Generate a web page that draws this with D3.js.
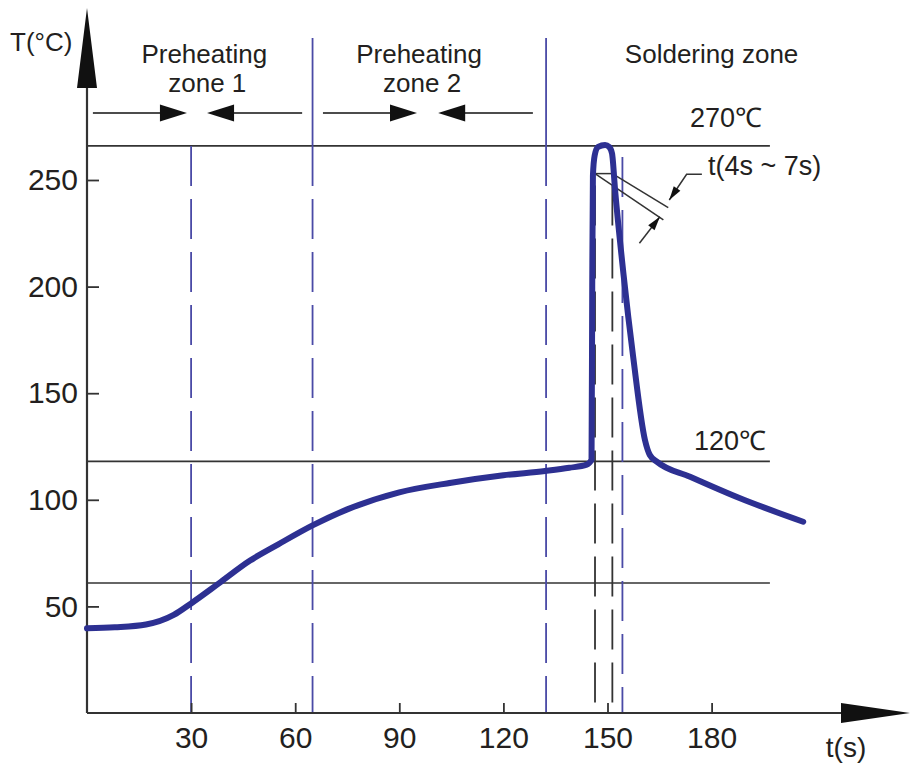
<!DOCTYPE html>
<html>
<head>
<meta charset="utf-8">
<script src="https://cdn.jsdelivr.net/npm/d3@7"></script>
<style>
body { margin: 0; background: #fff; }
svg text { font-family: "Liberation Sans", Arial, sans-serif; fill: #231f20; }
</style>
</head>
<body>
<div id="svgSpot"></div>
<script>
// reflow soldering profile, time (s) vs temperature (C)
var timeVals = [0, 8, 17, 25, 30, 38, 47, 55, 65, 75, 90, 105, 120, 132, 139, 144, 145.4, 145.6, 145.8, 146.3, 147.3, 149.3, 150.5, 151.3, 152.2, 154.6, 157.4, 160.8, 162.2, 164.3, 173.8, 188.2, 206.4];
var tempVals = [39.7, 40.2, 41.5, 46, 51.4, 60.8, 71.5, 79, 88, 95.5, 103.5, 108, 111.5, 113.5, 115, 116.5, 118.7, 200, 252, 261.5, 265.5, 266.4, 265.5, 262.5, 245, 206, 167, 128, 121, 117.8, 110.8, 100.7, 89.7];

var xTicks = [30, 60, 90, 120, 150, 180];
var yTicks = [50, 100, 150, 200, 250];

var refTemps = [266, 118, 61];
var refLabels = ["270℃", "120℃"];
var refEnd = 196.8;

var zoneEdges = [65, 132.3];
var zoneNames = [["Preheating", "zone 1"], ["Preheating", "zone 2"], ["Soldering zone"]];
var zoneCenters = [33.8, 95.7, 180]; // in seconds
var blueDashed = [30, 65, 132.3, 154.3];
var blueDashedTop = [266, 266, 266, 260.8];
var blackDashed = [146.4, 151.4];
var dwellTemp = 253;

function drawChart() {
	var svg = d3.select('#svgSpot').append('svg')
		.attr("width", 910)
		.attr("height", 763);

	var x = d3.scaleLinear().domain([0, 180]).range([87, 711.6]);
	var y = d3.scaleLinear().domain([0, 250]).range([713, 180]);
	var ink = "#333";
	var blue = "#4a4aa6";

	// horizontal reference lines
	svg.selectAll(".ref").data(refTemps).enter().append("line")
		.attr("x1", x(0)).attr("x2", x(refEnd))
		.attr("y1", function(d) { return y(d); })
		.attr("y2", function(d) { return y(d); })
		.style("stroke", ink).style("stroke-width", 1.6);

	// zone separators above the 270 line (solid)
	svg.selectAll(".zone").data(zoneEdges).enter().append("line")
		.attr("x1", function(d) { return x(d); })
		.attr("x2", function(d) { return x(d); })
		.attr("y1", 38).attr("y2", y(refTemps[0]))
		.style("stroke", blue).style("stroke-width", 1.8);

	// dashed blue verticals
	svg.selectAll(".bdash").data(blueDashed).enter().append("line")
		.attr("x1", function(d) { return x(d); })
		.attr("x2", function(d) { return x(d); })
		.attr("y1", function(d, i) { return y(blueDashedTop[i]); })
		.attr("y2", y(0))
		.style("stroke", blue).style("stroke-width", 1.8)
		.style("stroke-dasharray", "40,13");

	// dashed black verticals at the peak
	svg.selectAll(".kdash").data(blackDashed).enter().append("line")
		.attr("x1", function(d) { return x(d); })
		.attr("x2", function(d) { return x(d); })
		.attr("y1", y(dwellTemp) + 12).attr("y2", y(0))
		.style("stroke", ink).style("stroke-width", 1.8)
		.style("stroke-dasharray", "40,13");

	// axes
	var yAxis = svg.append("g").attr("transform", "translate(" + x(0) + ",0)")
		.call(d3.axisLeft(y).tickValues(yTicks).tickSize(-12).tickPadding(9));
	var xAxis = svg.append("g").attr("transform", "translate(0," + y(0) + ")")
		.call(d3.axisBottom(x).tickValues(xTicks).tickSize(-10).tickPadding(14));
	[xAxis, yAxis].forEach(function(a) {
		a.select(".domain").remove();
		a.selectAll("line").style("stroke", ink).style("stroke-width", 1.8);
		a.selectAll("text").style("font-size", "30px").style("fill", "#231f20")
			.style("font-family", "'Liberation Sans', Arial, sans-serif");
	});

	svg.append("line").attr("x1", x(0)).attr("x2", x(0)).attr("y1", 86).attr("y2", y(0))
		.style("stroke", ink).style("stroke-width", 2.2);
	svg.append("line").attr("x1", x(0)).attr("x2", 843).attr("y1", y(0)).attr("y2", y(0))
		.style("stroke", ink).style("stroke-width", 2.2);
	svg.append("path").attr("d", "M" + x(0) + ",8 L" + (x(0) + 10) + ",88 L" + (x(0) - 10) + ",88 Z")
		.style("fill", "#111");
	svg.append("path").attr("d", "M910," + y(0) + " L841," + (y(0) - 10) + " L841," + (y(0) + 10) + " Z")
		.style("fill", "#111");

	svg.append("text").attr("x", 10).attr("y", 51).style("font-size", "26px").text("T(°C)");
	svg.append("text").attr("x", 846).attr("y", 757).style("font-size", "28px")
		.attr("text-anchor", "middle").text("t(s)");

	// zone titles
	zoneNames.forEach(function(lines, i) {
		lines.forEach(function(s, j) {
			svg.append("text")
				.attr("x", x(zoneCenters[i]) + (j == 1 ? 3 : 0))
				.attr("y", 63 + j * 29)
				.attr("text-anchor", "middle")
				.style("font-size", "26px")
				.text(s);
		});
	});

	// zone arrows (pair per preheating zone)
	var arrowY = 113;
	var zoneArrows = [[1.7, 28.8, 34.6, 62], [68, 95.1, 101.2, 128.5]];
	zoneArrows.forEach(function(a) {
		var l = x(a[0]), t1 = x(a[1]), t2 = x(a[2]), r = x(a[3]);
		svg.append("line").attr("x1", l).attr("x2", t1 - 20).attr("y1", arrowY).attr("y2", arrowY)
			.style("stroke", "#111").style("stroke-width", 1.6);
		svg.append("path").attr("d", "M" + t1 + "," + arrowY + " L" + (t1 - 27) + "," + (arrowY - 8.5) + " L" + (t1 - 27) + "," + (arrowY + 8.5) + " Z")
			.style("fill", "#111");
		svg.append("line").attr("x1", t2 + 20).attr("x2", r).attr("y1", arrowY).attr("y2", arrowY)
			.style("stroke", "#111").style("stroke-width", 1.6);
		svg.append("path").attr("d", "M" + t2 + "," + arrowY + " L" + (t2 + 27) + "," + (arrowY - 8.5) + " L" + (t2 + 27) + "," + (arrowY + 8.5) + " Z")
			.style("fill", "#111");
	});

	// reference labels
	svg.append("text").attr("x", 726).attr("y", y(refTemps[0]) - 19).attr("text-anchor", "middle")
		.style("font-size", "27px").text(refLabels[0]);
	svg.append("text").attr("x", 730).attr("y", y(refTemps[1]) - 11).attr("text-anchor", "middle")
		.style("font-size", "27px").text(refLabels[1]);

	// dwell-time dimension
	var dim = svg.append("g").style("stroke", ink).style("stroke-width", 1.5).style("fill", "none");
	dim.append("line").attr("x1", x(blackDashed[0])).attr("x2", x(blackDashed[1]))
		.attr("y1", y(dwellTemp)).attr("y2", y(dwellTemp));
	dim.append("line").attr("x1", x(blackDashed[1])).attr("y1", y(dwellTemp))
		.attr("x2", x(167.5)).attr("y2", y(237));
	dim.append("line").attr("x1", x(blackDashed[0])).attr("y1", y(dwellTemp))
		.attr("x2", x(166.1)).attr("y2", y(231.3));
	dim.append("path").attr("d", "M" + x(177.2) + "," + y(252.7) + " L" + x(172.8) + "," + y(252.7) + " L" + x(167.8) + "," + y(240.6));
	dim.append("path").attr("d", "M" + x(165.1) + "," + y(232.8) + " L" + x(159.2) + "," + y(220.3));
	function head(tip, from) {
		var tx = x(tip[0]), ty = y(tip[1]), fx = x(from[0]), fy = y(from[1]);
		var dx = tx - fx, dy = ty - fy, len = Math.sqrt(dx * dx + dy * dy);
		var ux = dx / len, uy = dy / len, L = 14, W = 4;
		var bx = tx - ux * L, by = ty - uy * L;
		svg.append("path").attr("d", "M" + tx + "," + ty + " L" + (bx - uy * W) + "," + (by + ux * W) + " L" + (bx + uy * W) + "," + (by - ux * W) + " Z")
			.style("fill", "#111");
	}
	head([167.8, 240.6], [172.8, 252.7]);
	head([165.1, 232.8], [159.2, 220.3]);
	svg.append("text").attr("x", 708).attr("y", 175).style("font-size", "27px").text("t(4s ~ 7s)");

	// temperature curve
	var pts = timeVals.map(function(t, i) { return [t, tempVals[i]]; });
	var line = d3.line()
		.x(function(d) { return x(d[0]); })
		.y(function(d) { return y(d[1]); })
		.curve(d3.curveMonotoneX);
	svg.append("path").attr("d", line(pts))
		.style("fill", "none")
		.style("stroke", "#2d3092")
		.style("stroke-width", 6)
		.style("stroke-linejoin", "round")
		.style("stroke-linecap", "round");
}

drawChart();
</script>
</body>
</html>
